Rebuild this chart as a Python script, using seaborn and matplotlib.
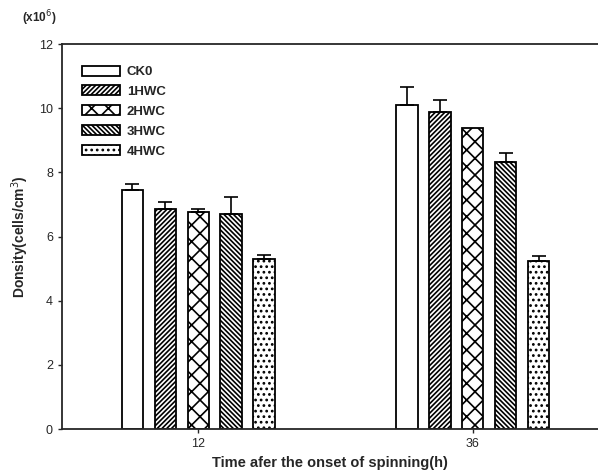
import seaborn as sns
import pandas as pd
import matplotlib.pyplot as plt

times = ["12", "36"]
treatments = ["CK0", "1HWC", "2HWC", "3HWC", "4HWC"]
density_12 = [7.45, 6.85, 6.75, 6.70, 5.30]
density_36 = [10.10, 9.88, 9.38, 8.32, 5.25]
err_12 = [0.18, 0.22, 0.12, 0.52, 0.12]
err_36 = [0.55, 0.37, 0.0, 0.28, 0.15]

rows = []
for t, vals, errs in [(times[0], density_12, err_12), (times[1], density_36, err_36)]:
    for trt, v, e in zip(treatments, vals, errs):
        rows.append({"time": t, "treatment": trt, "density": v, "err": e})
df = pd.DataFrame(rows)

sns.set_style("ticks")
plt.rcParams['font.family'] = ['Liberation Sans', 'DejaVu Sans']
plt.rcParams['hatch.linewidth'] = 1.2

fig = plt.figure(figsize=(5.98, 4.76), dpi=100)
ax = fig.add_axes([62 / 598, 1 - 429 / 476, 1 - 62 / 598, 385 / 476])

palette = {t: "white" for t in treatments}
sns.barplot(data=df, x="time", y="density", hue="treatment", order=times,
            hue_order=treatments, palette=palette, width=0.6, gap=0.36,
            errorbar=None, edgecolor="black", linewidth=1.3, ax=ax)

hatches = ["", "///////", "xx", "\\\\\\\\\\\\\\", "..."]
# patches are ordered by hue, then by x
bars = ax.patches[:len(treatments) * len(times)]
for i, bar in enumerate(bars):
    h_idx = i // len(times)
    x_idx = i % len(times)
    bar.set_hatch(hatches[h_idx])
    sub = df[(df.treatment == treatments[h_idx]) & (df.time == times[x_idx])]
    e = sub.err.iloc[0]
    if e > 0:
        cx = bar.get_x() + bar.get_width() / 2
        ax.errorbar(cx, bar.get_height(), yerr=[[0], [e]], fmt="none",
                    ecolor="black", elinewidth=1.2, capsize=5, capthick=1.2)

ax.set_ylim(0, 12)
ax.set_xlim(-0.495, 1.455)
ax.set_yticks([0, 2, 4, 6, 8, 10, 12])
ax.tick_params(axis="both", direction="out", length=3, width=1, labelsize=9)
for s in ["left", "bottom", "top"]:
    ax.spines[s].set_linewidth(1.3)
    ax.spines[s].set_visible(True)
ax.spines["right"].set_visible(False)

ax.set_xlabel("Time afer the onset of spinning(h)", fontsize=10.5,
              fontweight="bold", labelpad=4)
ax.set_ylabel("Donsity(cells/cm$^3$)", fontsize=10, fontweight="bold", labelpad=6)
fig.text(22 / 598, 1 - 18 / 476, "(x10$^6$)", fontsize=8.5, fontweight="bold",
         va="center", ha="left")

leg = ax.legend(loc="upper left", bbox_to_anchor=(0.015, 0.975), frameon=False,
                fontsize=9.5, handlelength=2.9, handleheight=0.8,
                labelspacing=0.55, handletextpad=0.5)
for txt in leg.get_texts():
    txt.set_fontweight("bold")
for handle, hatch in zip(leg.legend_handles, hatches):
    handle.set_hatch(hatch)
    handle.set_edgecolor("black")
    handle.set_linewidth(1.3)

fig.savefig("out.png", dpi=100)
